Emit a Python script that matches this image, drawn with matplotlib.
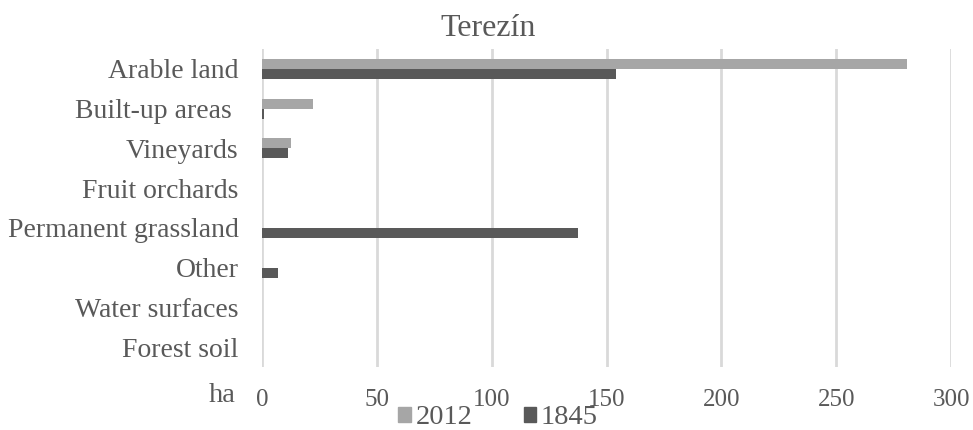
import numpy as np
import matplotlib
matplotlib.use("Agg")
import matplotlib.pyplot as plt
from matplotlib.patches import Patch

categories = ["Arable land", "Built-up areas ", "Vineyards", "Fruit orchards",
              "Permanent grassland", "Other", "Water surfaces", "Forest soil"]
values_2012 = [281, 22, 12.5, 0, 0, 0, 0, 0]
values_1845 = [154, 1, 11.3, 0, 137.6, 7, 0, 0]
series_names = ["2012", "1845"]
xticks = [0, 50, 100, 150, 200, 250, 300]

c2012 = "#A6A6A6"
c1845 = "#595959"
txt = "#595959"
font = "Liberation Serif"

fig = plt.figure(figsize=(9.73, 4.30), dpi=100)
ax = fig.add_axes([262/973, 1-367/430, (951-262)/973, (367-49)/430])

y = np.arange(len(categories))
h = 0.25
ax.barh(y - h/2, values_2012, height=h, color=c2012, zorder=3)
ax.barh(y + h/2, values_1845, height=h, color=c1845, zorder=3)

ax.set_ylim(len(categories) - 0.5, -0.5)
ax.set_xlim(0, 300)
ax.set_xticks(xticks)
ax.set_xticklabels([str(t) for t in xticks], fontfamily=font, fontsize=18, color=txt)
ax.set_yticks(y)
ax.set_yticklabels(categories, fontfamily=font, fontsize=20, color=txt)
ax.tick_params(axis="both", length=0)
ax.tick_params(axis="x", pad=16)
ax.tick_params(axis="y", pad=17)
ax.grid(axis="x", color="#D9D9D9", linewidth=2, zorder=0)
for s in ax.spines.values():
    s.set_visible(False)

fig.text(488/973, 1-29/430, "Terezín", ha="center", va="center",
         fontfamily=font, fontsize=23, color=txt)
fig.text(236/973, 1-396/430, "ha", ha="right", va="center",
         fontfamily=font, fontsize=20.5, color=txt)

handles = [Patch(color=c2012), Patch(color=c1845)]
fig.legend(handles, series_names, loc="center", bbox_to_anchor=(498/973, 1-418/430),
           ncol=2, frameon=False, prop={"family": font, "size": 20.5},
           labelcolor=txt, handlelength=0.45, handleheight=0.45,
           handletextpad=0.15, columnspacing=1.8, borderpad=0)

fig.savefig("out.png", dpi=100, facecolor="white")
